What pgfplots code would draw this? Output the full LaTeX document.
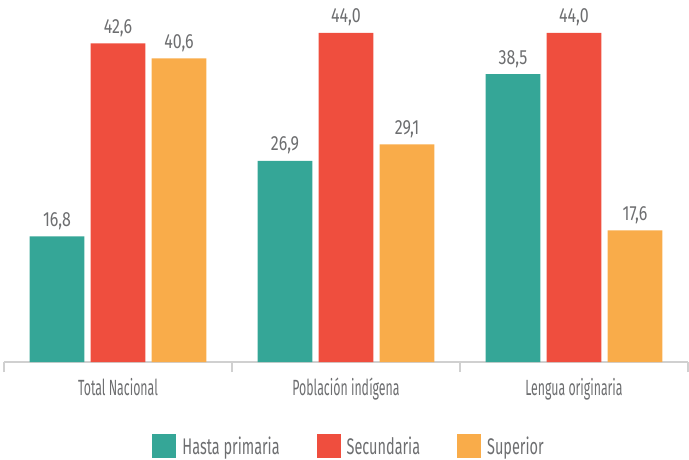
\documentclass[border=0pt]{standalone}
\usepackage{pgfplots}
\pgfplotsset{compat=1.18}
\usepackage{fontspec}
\setmainfont{Fira Sans}[FakeStretch=0.56]
\newfontfamily\valfont{Fira Sans}[FakeStretch=0.78]
\newfontfamily\legfont{Fira Sans}[FakeStretch=0.64]

\definecolor{cteal}{HTML}{35A697}
\definecolor{cred}{HTML}{EF4E3E}
\definecolor{corange}{HTML}{F9AC4A}
\definecolor{txtgray}{HTML}{6D6E70}
\definecolor{axgray}{HTML}{D0D0D0}

\pgfplotsset{
  sqlegend/.style={legend image code/.code={\fill[##1, draw=none] (0pt,-12pt) rectangle (24pt,12pt);}},
}

\begin{document}
\begin{tikzpicture}[x=1pt,y=1pt]
  \useasboundingbox (0,0) rectangle (689,459);
  \begin{axis}[
    at={(4pt,97pt)}, anchor=south west,
    scale only axis, width=684pt, height=362pt,
    xmin=-0.5, xmax=2.5, ymin=0, ymax=48.4,
    clip=false,
    axis x line*=bottom, axis y line=none,
    axis line style={axgray, line width=2.5pt},
    ytick=\empty,
    xtick={-0.5,0.5,1.5,2.5}, xticklabels={},
    tick align=outside, major tick length=10pt,
    x tick style={axgray, line width=2.5pt},
    ybar, bar width=0.241,
    font=\fontsize{22}{26}\selectfont\color{txtgray},
    /pgf/number format/.cd, use comma, fixed, fixed zerofill, precision=1, assume math mode=true,
    /pgfplots/.cd,
    nodes near coords,
    every node near coord/.append style={anchor=base, inner sep=0pt, yshift=10pt, color=txtgray,
      font=\valfont\fontsize{20.5}{24}\selectfont},
    sqlegend,
    legend columns=3,
    legend style={at={(0.503,-0.232)}, anchor=center, draw=none, fill=none,
      font=\legfont\fontsize{22.6}{26}\selectfont\color{txtgray},
      nodes={inner sep=0pt},
      /tikz/every odd column/.style={column sep=6pt},
      /tikz/every even column/.style={column sep=37pt}},
  ]
    \addplot[fill=cteal, draw=none, bar shift=-0.2675] coordinates {(0,16.8) (1,26.9) (2,38.5)};
    \addplot[fill=cred, draw=none, bar shift=0] coordinates {(0,42.6) (1,44.0) (2,44.0)};
    \addplot[fill=corange, draw=none, bar shift=0.2675] coordinates {(0,40.6) (1,29.1) (2,17.6)};
    \legend{Hasta primaria, Secundaria, Superior}
    \node[anchor=base, text=txtgray, inner sep=0pt] at (axis cs:0,0) [yshift=-33pt] {Total Nacional};
    \node[anchor=base, text=txtgray, inner sep=0pt] at (axis cs:1,0) [yshift=-33pt] {Población indígena};
    \node[anchor=base, text=txtgray, inner sep=0pt] at (axis cs:2,0) [yshift=-33pt] {Lengua originaria};
  \end{axis}
\end{tikzpicture}
\end{document}
